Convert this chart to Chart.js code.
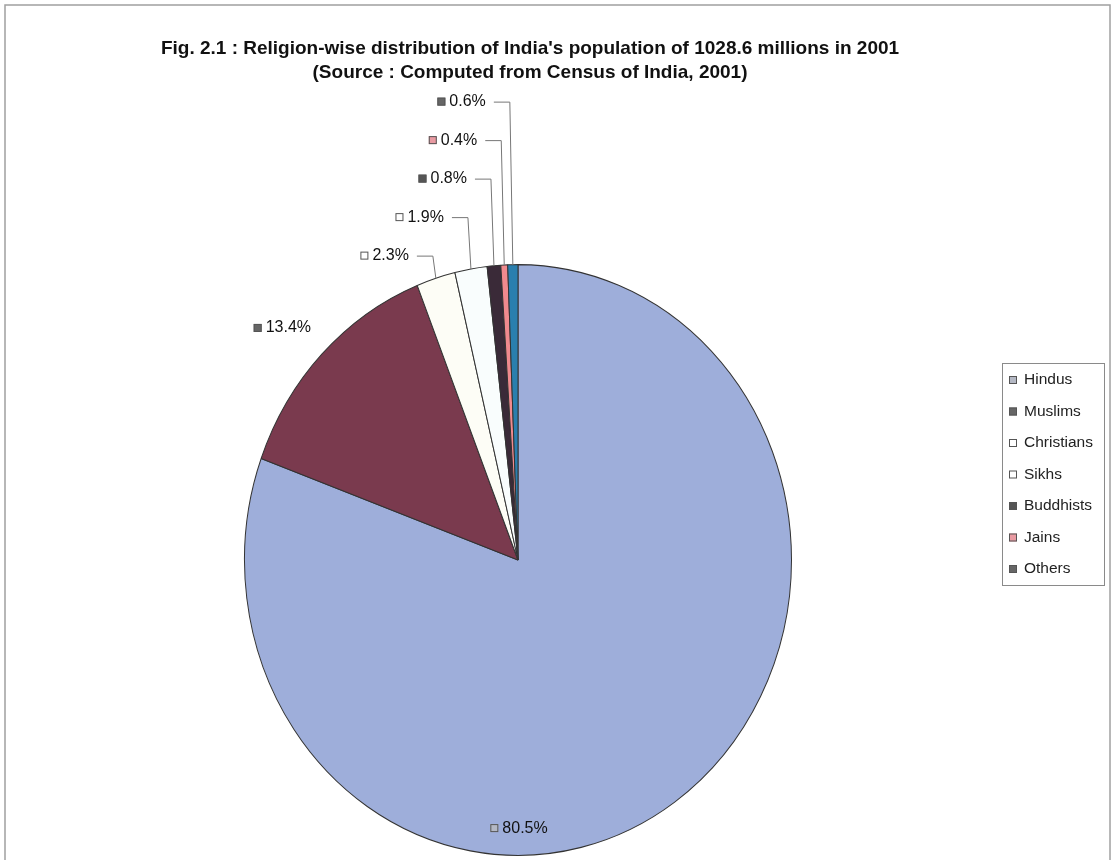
<!DOCTYPE html>
<html>
<head>
<meta charset="utf-8">
<script src="https://cdn.jsdelivr.net/npm/chart.js@4/dist/chart.umd.min.js"></script>
<style>
  body { margin: 0; background: #fff; }
  #wrap { width: 1116px; height: 860px; position: relative; }
</style>
</head>
<body>
<div id="wrap"><canvas id="pieChart" width="1116" height="860"></canvas></div>
<script>
// 종교별 인구 비율 (%)
const religions = ["Hindus", "Muslims", "Christians", "Sikhs", "Buddhists", "Jains", "Others"];
const shares = [80.5, 13.4, 2.3, 1.9, 0.8, 0.4, 0.6];

const titleLines = [
    "Fig. 2.1 : Religion-wise distribution of India's population of 1028.6 millions in 2001",
    "(Source : Computed from Census of India, 2001)"
];

// 색상 (조각 / 범례 마커)
const sliceColors = ["#9eaeda", "#7a3a4e", "#fdfdf6", "#f9fdfd", "#3a2a38", "#f08a8e", "#2a7fae"];
const markerColors = ["#b4b8c4", "#666666", "#ffffff", "#ffffff", "#555555", "#e99aa2", "#666666"];

const SY = 1.08;   // 세로로 조금 늘어난 원 (엑셀 원본처럼)
const FONT = "'Liberation Sans', Arial, sans-serif";

function marker(ctx, x, y, color) {
    ctx.fillStyle = color;
    ctx.fillRect(x, y - 4, 8, 8);
    ctx.strokeStyle = "#555";
    ctx.lineWidth = 1;
    ctx.strokeRect(x + 0.5, y - 3.5, 7, 7);
}

const stretchPlugin = {
    id: 'stretch',
    beforeDatasetsDraw(chart) {
        const arc = chart.getDatasetMeta(0).data[0];
        const ctx = chart.ctx;
        ctx.save();
        ctx.translate(arc.x, arc.y);
        ctx.scale(1, SY);
        ctx.translate(-arc.x, -arc.y);
    },
    afterDatasetsDraw(chart) {
        chart.ctx.restore();
    }
};

const decoPlugin = {
    id: 'deco',
    afterDraw(chart) {
        const ctx = chart.ctx;
        ctx.save();

        // 바깥 테두리
        ctx.strokeStyle = "#a0a0a0";
        ctx.lineWidth = 1.5;
        ctx.strokeRect(5, 5, 1105, 900);

        // 제목
        ctx.fillStyle = "#111";
        ctx.textAlign = "center";
        ctx.textBaseline = "middle";
        ctx.font = "bold 19px " + FONT;
        ctx.fillText(titleLines[0], 530, 49);
        ctx.fillText(titleLines[1], 530, 73);

        // 데이터 라벨
        const arcs = chart.getDatasetMeta(0).data;
        ctx.font = "16px " + FONT;
        ctx.textAlign = "right";
        arcs.forEach((arc, i) => {
            const p = arc.getProps(['x', 'y', 'startAngle', 'endAngle', 'outerRadius'], true);
            const a = (p.startAngle + p.endAngle) / 2;
            const ex = p.x + p.outerRadius * Math.cos(a);
            const ey = p.y + p.outerRadius * SY * Math.sin(a);
            const top = p.y - p.outerRadius * SY;
            const txt = shares[i].toFixed(1) + "%";
            let tx, ty;
            if (i === 0) {
                tx = ex - 127; ty = ey + 26;
            } else if (i === 1) {
                tx = ex - 11; ty = ey - 26;
            } else {
                ty = top - 9 - (i - 2) * 38.5;
                tx = ex - 27;
                ctx.strokeStyle = "#777";
                ctx.lineWidth = 1;
                ctx.beginPath();
                ctx.moveTo(tx + 8, ty + 0.5);
                ctx.lineTo(ex - 3, ty + 0.5);
                ctx.lineTo(ex, ey);
                ctx.stroke();
            }
            ctx.fillStyle = "#111";
            ctx.fillText(txt, tx, ty);
            const w = ctx.measureText(txt).width;
            marker(ctx, tx - w - 12, ty, markerColors[i]);
        });

        // 범례
        ctx.strokeStyle = "#8a8a8a";
        ctx.lineWidth = 1;
        ctx.strokeRect(1002.5, 363.5, 102, 222);
        ctx.font = "15.5px " + FONT;
        ctx.textAlign = "left";
        religions.forEach((name, i) => {
            const y = 380 + i * 31.5;
            marker(ctx, 1009, y, markerColors[i]);
            ctx.fillStyle = "#222";
            ctx.fillText(name, 1024, y);
        });

        ctx.restore();
    }
};

new Chart(document.getElementById('pieChart').getContext('2d'), {
    type: 'pie',
    data: {
        labels: religions,
        datasets: [{
            data: shares,
            backgroundColor: sliceColors,
            borderColor: "#333",
            borderWidth: 1
        }]
    },
    options: {
        responsive: false,
        animation: false,
        layout: { padding: { left: 244, right: 324, top: 286, bottom: 26 } },
        plugins: {
            legend: { display: false },
            tooltip: { enabled: false }
        }
    },
    plugins: [stretchPlugin, decoPlugin]
});
</script>
</body>
</html>
